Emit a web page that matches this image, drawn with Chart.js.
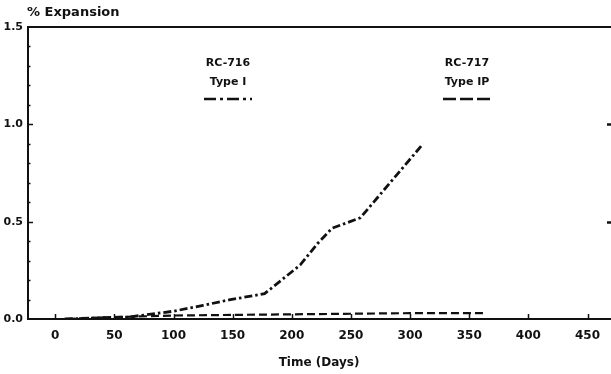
<!DOCTYPE html>
<html>
<head>
<meta charset="utf-8">
<script src="https://cdn.jsdelivr.net/npm/chart.js@4.4.1/dist/chart.umd.min.js"></script>
<style>
    html, body { margin: 0; padding: 0; background: #fff; }
    #wrap { width: 611px; height: 374px; }
</style>
</head>
<body>
<div id="wrap"><canvas id="chart" width="611" height="374"></canvas></div>
<script>
    // RC-716 (Type I) - dash-dot curve
    const days716 = [8, 35, 62, 100, 125, 147, 177, 207, 222, 234, 258, 311];
    const exp716 = [0.0, 0.005, 0.01, 0.04, 0.07, 0.098, 0.13, 0.277, 0.389, 0.466, 0.52, 0.90];

    // RC-717 (Type IP) - dashed curve
    const days717 = [10, 40, 65, 100, 150, 200, 250, 300, 364];
    const exp717 = [0.0, 0.008, 0.012, 0.018, 0.021, 0.024, 0.027, 0.03, 0.03];

    const seriesNames = ['RC-716', 'RC-717'];
    const seriesTypes = ['Type I', 'Type IP'];

    const xTickValues = [0, 50, 100, 150, 200, 250, 300, 350, 400, 450];
    const yTickValues = [0, 0.5, 1.0, 1.5];

    const INK = '#111';
    const FONT = '"DejaVu Sans", sans-serif';

    const toPoints = (xs, ys) => xs.map((x, i) => ({ x, y: ys[i] }));

    // box, inward ticks, axis caption and the hand-placed legend
    const decorations = {
        id: 'decorations',
        afterDraw(chart, args, opts) {
            const { ctx, chartArea: a, scales: { x, y } } = chart;
            ctx.save();
            ctx.strokeStyle = INK;
            ctx.fillStyle = INK;

            // top frame line
            ctx.lineWidth = 2;
            ctx.beginPath();
            ctx.moveTo(a.left - 1, a.top);
            ctx.lineTo(chart.width, a.top);
            ctx.stroke();

            // inward x ticks
            ctx.lineWidth = 1.5;
            xTickValues.forEach(v => {
                const px = Math.round(x.getPixelForValue(v)) + 0.5;
                ctx.beginPath();
                ctx.moveTo(px, a.bottom);
                ctx.lineTo(px, a.bottom - 5);
                ctx.stroke();
            });

            // inward y ticks, minor every 0.1
            for (let i = 1; i < 15; i++) {
                const v = i / 10;
                const py = Math.round(y.getPixelForValue(v)) + 0.5;
                const major = i % 5 === 0;
                ctx.beginPath();
                ctx.moveTo(a.left, py);
                ctx.lineTo(a.left + (major ? 5 : 2.5), py);
                ctx.stroke();
                if (major) {
                    ctx.lineWidth = 2.5;
                    ctx.beginPath();
                    ctx.moveTo(a.right - 3, py);
                    ctx.lineTo(a.right + 1, py);
                    ctx.stroke();
                    ctx.lineWidth = 1.5;
                }
            }

            // y caption
            ctx.font = 'bold 13px ' + FONT;
            ctx.textAlign = 'left';
            ctx.textBaseline = 'middle';
            ctx.fillText('% Expansion', 27, 13);

            // legend blocks
            ctx.textAlign = 'center';
            ctx.font = 'bold 11px ' + FONT;
            chart.data.datasets.forEach((ds, i) => {
                const cx = opts.centers[i];
                ctx.fillText(seriesNames[i], cx, 63);
                ctx.fillText(seriesTypes[i], cx, 82);
                ctx.save();
                ctx.lineWidth = 2.5;
                ctx.setLineDash(opts.sampleDash[i]);
                ctx.beginPath();
                ctx.moveTo(cx - 24, 99);
                ctx.lineTo(cx + 24, 99);
                ctx.stroke();
                ctx.restore();
            });
            ctx.restore();
        }
    };

    const ctx = document.getElementById('chart').getContext('2d');
    new Chart(ctx, {
        type: 'line',
        data: {
            datasets: [{
                label: seriesNames[0] + ' ' + seriesTypes[0],
                data: toPoints(days716, exp716),
                borderColor: INK,
                borderWidth: 2.8,
                borderDash: [8, 3, 2.5, 3],
                pointRadius: 0,
                fill: false,
                tension: 0
            }, {
                label: seriesNames[1] + ' ' + seriesTypes[1],
                data: toPoints(days717, exp717),
                borderColor: INK,
                borderWidth: 2.2,
                borderDash: [8, 4],
                pointRadius: 0,
                fill: false,
                tension: 0
            }]
        },
        options: {
            responsive: false,
            animation: false,
            layout: { padding: { top: 27, right: 1, left: 0, bottom: 0 } },
            plugins: {
                legend: { display: false },
                tooltip: { enabled: false },
                decorations: {
                    centers: [228, 467],
                    sampleDash: [[12, 4, 3, 4], [13, 4]]
                }
            },
            scales: {
                x: {
                    type: 'linear',
                    position: 'bottom',
                    min: -23,
                    max: 469,
                    afterBuildTicks: s => { s.ticks = xTickValues.map(v => ({ value: v })); },
                    afterFit: s => { s.height = 55; },
                    grid: { display: false, drawTicks: false },
                    border: { display: true, color: INK, width: 2 },
                    ticks: {
                        autoSkip: false,
                        maxRotation: 0,
                        padding: 10,
                        color: INK,
                        font: { family: FONT, size: 12, weight: 'bold' }
                    },
                    title: {
                        display: true,
                        text: 'Time (Days)',
                        color: INK,
                        padding: { top: 0, bottom: 4 },
                        font: { family: FONT, size: 12, weight: 'bold' }
                    }
                },
                y: {
                    type: 'linear',
                    min: 0,
                    max: 1.5,
                    afterBuildTicks: s => { s.ticks = yTickValues.map(v => ({ value: v })); },
                    afterFit: s => { s.width = 28; },
                    grid: { display: false, drawTicks: false },
                    border: { display: true, color: INK, width: 2 },
                    ticks: {
                        padding: 5,
                        color: INK,
                        font: { family: FONT, size: 11, weight: 'bold' },
                        callback: v => v.toFixed(1)
                    }
                }
            }
        },
        plugins: [decorations]
    });
</script>
</body>
</html>
